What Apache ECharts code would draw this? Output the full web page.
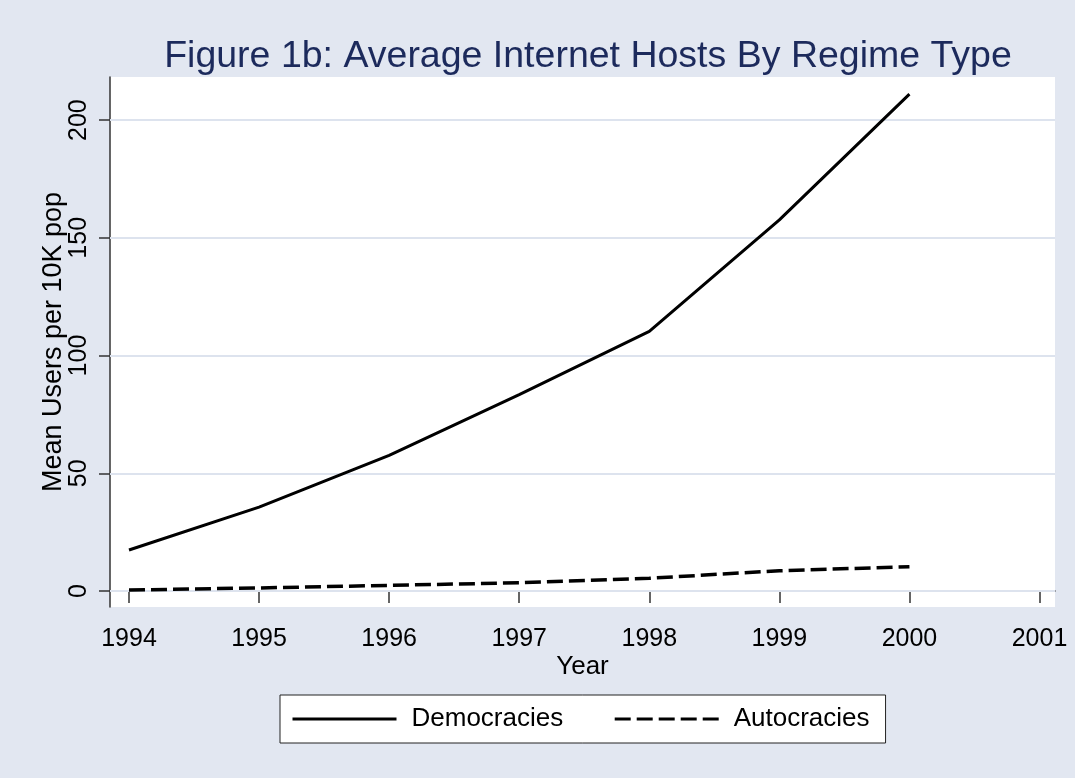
<!DOCTYPE html>
<html>
<head>
<meta charset="utf-8">
<script src="https://cdn.jsdelivr.net/npm/echarts@6/dist/echarts.min.js"></script>
<style>
  html, body { margin: 0; padding: 0; background: #e2e7f1; }
  #chart { width: 1075px; height: 778px; }
</style>
</head>
<body>
<div id="chart"></div>
<script>
// data
var years = [1994, 1995, 1996, 1997, 1998, 1999, 2000];
var democracies = [17.4, 35.6, 57.6, 83.4, 110.3, 157.6, 211.0];
var autocracies = [0.4, 1.3, 2.4, 3.5, 5.4, 8.6, 10.3];
var xTicks = [1994, 1995, 1996, 1997, 1998, 1999, 2000, 2001];
var yTicks = [0, 50, 100, 150, 200];

var myChart = echarts.init(document.getElementById('chart'));

function pairs(vals) {
  return years.map(function (y, i) { return [y, vals[i]]; });
}

myChart.setOption({
  backgroundColor: '#e2e7f1',
  animation: false,
  textStyle: { fontFamily: 'Liberation Sans, Arial, sans-serif' },
  title: {
    text: 'Figure 1b: Average Internet Hosts By Regime Type',
    left: 583,
    textAlign: 'center',
    top: 33,
    textStyle: { color: '#1c2a5c', fontSize: 37.5, fontWeight: 'normal' }
  },
  grid: {
    left: 110, right: 20, top: 77, bottom: 171,
    show: true, backgroundColor: '#ffffff', borderWidth: 0
  },
  legend: {
    left: 280,
    top: 695,
    padding: [11, 16, 11, 11],
    itemGap: 50,
    itemWidth: 104,
    itemHeight: 26,
    backgroundColor: '#ffffff',
    borderColor: '#222',
    borderWidth: 1,
    borderRadius: 0,
    itemStyle: { opacity: 0 },
    lineStyle: { width: 3 },
    textStyle: { fontSize: 26, color: '#000', padding: [0, 0, 0, 10] },
    data: ['Democracies', 'Autocracies']
  },
  xAxis: {
    type: 'value',
    min: 1993.854,
    max: 2001.119,
    name: 'Year',
    nameLocation: 'middle',
    nameGap: 47,
    nameMoveOverlap: false,
    nameTextStyle: { fontSize: 26, color: '#000' },
    axisLine: { show: true, lineStyle: { color: '#333', width: 1.5 } },
    axisTick: { show: true, length: 12, customValues: xTicks, lineStyle: { color: '#333', width: 1.5 } },
    axisLabel: { customValues: xTicks, fontSize: 25, color: '#000', margin: 20,
      formatter: function (v) { return String(v); } },
    splitLine: { show: false }
  },
  yAxis: {
    type: 'value',
    min: -6.8,
    max: 218.3,
    name: 'Mean Users per 10K pop',
    nameLocation: 'middle',
    nameGap: 43,
    nameMoveOverlap: false,
    nameTextStyle: { fontSize: 27, color: '#000' },
    axisLine: { show: true, lineStyle: { color: '#333', width: 1.5 } },
    axisTick: { show: true, length: 11, customValues: yTicks, lineStyle: { color: '#333', width: 1.5 } },
    axisLabel: { customValues: yTicks, fontSize: 25, color: '#000', margin: 18, rotate: 90 },
    splitLine: { show: false }
  },
  series: [
    {
      name: 'Democracies',
      type: 'line',
      data: pairs(democracies),
      symbol: 'none',
      color: '#000',
      lineStyle: { color: '#000', width: 3 },
      markLine: {
        silent: true,
        symbol: 'none',
        label: { show: false },
        lineStyle: { color: '#dde3ee', width: 2, type: 'solid' },
        data: yTicks.map(function (t) { return { yAxis: t }; }),
        z: 1
      },
      z: 3
    },
    {
      name: 'Autocracies',
      type: 'line',
      data: pairs(autocracies),
      symbol: 'none',
      color: '#000',
      lineStyle: { color: '#000', width: 3.5, type: [16, 6] },
      z: 3
    }
  ]
});
</script>
</body>
</html>
